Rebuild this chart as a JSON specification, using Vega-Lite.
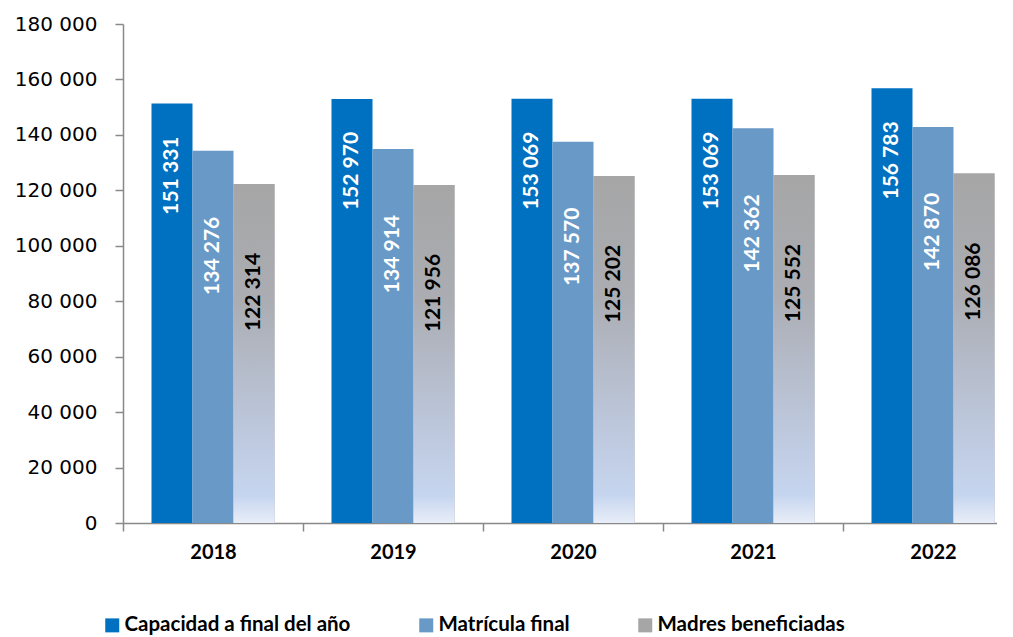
{
  "$schema": "https://vega.github.io/schema/vega-lite/v6.json",
  "width": 874,
  "height": 499,
  "autosize": {"type": "none"},
  "padding": {"left": 123, "top": 24, "right": 0, "bottom": 114},
  "config": {
    "view": {"stroke": null},
    "locale": {"number": {"decimal": ",", "thousands": " ", "grouping": [3], "currency": ["", ""]}},
    "axis": {"domainColor": "#898989", "domainWidth": 1.5, "tickColor": "#898989", "tickWidth": 1.5, "grid": false, "labelColor": "#000000", "title": null}
  },
  "data": {
    "values": [
      {"year": "2018", "series": "Capacidad a final del año", "value": 151331},
      {"year": "2018", "series": "Matrícula final", "value": 134276},
      {"year": "2018", "series": "Madres beneficiadas", "value": 122314},
      {"year": "2019", "series": "Capacidad a final del año", "value": 152970},
      {"year": "2019", "series": "Matrícula final", "value": 134914},
      {"year": "2019", "series": "Madres beneficiadas", "value": 121956},
      {"year": "2020", "series": "Capacidad a final del año", "value": 153069},
      {"year": "2020", "series": "Matrícula final", "value": 137570},
      {"year": "2020", "series": "Madres beneficiadas", "value": 125202},
      {"year": "2021", "series": "Capacidad a final del año", "value": 153069},
      {"year": "2021", "series": "Matrícula final", "value": 142362},
      {"year": "2021", "series": "Madres beneficiadas", "value": 125552},
      {"year": "2022", "series": "Capacidad a final del año", "value": 156783},
      {"year": "2022", "series": "Matrícula final", "value": 142870},
      {"year": "2022", "series": "Madres beneficiadas", "value": 126086}
    ]
  },
  "encoding": {
    "x": {
      "field": "year", "type": "nominal",
      "scale": {"range": [0, 900], "paddingInner": 0, "paddingOuter": 0},
      "axis": {"labelAngle": 0, "labelFont": "Lato", "labelFontWeight": "bold", "labelFontSize": 20, "tickBand": "extent", "tickSize": 8, "labelPadding": 11}
    },
    "xOffset": {
      "field": "series", "type": "nominal",
      "scale": {"domain": ["Capacidad a final del año", "Matrícula final", "Madres beneficiadas"], "paddingInner": 0, "paddingOuter": 0.695}
    },
    "y": {
      "field": "value", "type": "quantitative",
      "scale": {"domain": [0, 180000], "nice": false},
      "axis": {"values": [0, 20000, 40000, 60000, 80000, 100000, 120000, 140000, 160000, 180000], "format": ",d", "labelFont": "DejaVu Sans", "labelFontSize": 20, "tickSize": 8, "labelPadding": 18}
    }
  },
  "layer": [
    {
      "mark": {"type": "bar"},
      "encoding": {
        "color": {
          "field": "series", "type": "nominal",
          "scale": {"domain": ["Capacidad a final del año", "Matrícula final", "Madres beneficiadas"], "range": ["#0070C0", "#6899C7", "#A6A6A6"]},
          "legend": {"title": null, "orient": "none", "legendX": -21, "legendY": 591, "direction": "horizontal", "symbolType": "square", "symbolSize": 196, "symbolStrokeWidth": 0, "labelFont": "Lato", "labelFontWeight": "bold", "labelFontSize": 20.5, "labelColor": "#000000", "columnPadding": 65, "labelOffset": 2, "padding": 0, "labelLimit": 400}
        }
      }
    },
    {
      "transform": [{"filter": "datum.series === 'Madres beneficiadas'"}],
      "mark": {"type": "bar", "fill": {"gradient": "linear", "x1": 0, "y1": 0, "x2": 0, "y2": 1, "stops": [
        {"offset": 0, "color": "#A6A6A6"},
        {"offset": 0.35, "color": "#ABADB3"},
        {"offset": 0.7, "color": "#BCC6DA"},
        {"offset": 0.92, "color": "#C6D5EF"},
        {"offset": 1, "color": "#E8EEF8"}
      ]}},
      "encoding": {}
    },
    {
      "transform": [{"filter": "datum.series === 'Capacidad a final del año'"}],
      "mark": {"type": "text", "angle": 270, "align": "right", "baseline": "middle", "dx": -33, "font": "Lato", "fontWeight": "bold", "fontSize": 21, "color": "#FFFFFF"},
      "encoding": {"text": {"field": "value", "type": "quantitative", "format": ",d"}}
    },
    {
      "transform": [{"filter": "datum.series === 'Matrícula final'"}],
      "mark": {"type": "text", "angle": 270, "align": "right", "baseline": "middle", "dx": -66, "font": "Lato", "fontWeight": "bold", "fontSize": 21, "color": "#FFFFFF"},
      "encoding": {"text": {"field": "value", "type": "quantitative", "format": ",d"}}
    },
    {
      "transform": [{"filter": "datum.series === 'Madres beneficiadas'"}],
      "mark": {"type": "text", "angle": 270, "align": "right", "baseline": "middle", "dx": -69, "font": "Lato", "fontWeight": "bold", "fontSize": 21, "color": "#000000"},
      "encoding": {"text": {"field": "value", "type": "quantitative", "format": ",d"}}
    }
  ]
}
